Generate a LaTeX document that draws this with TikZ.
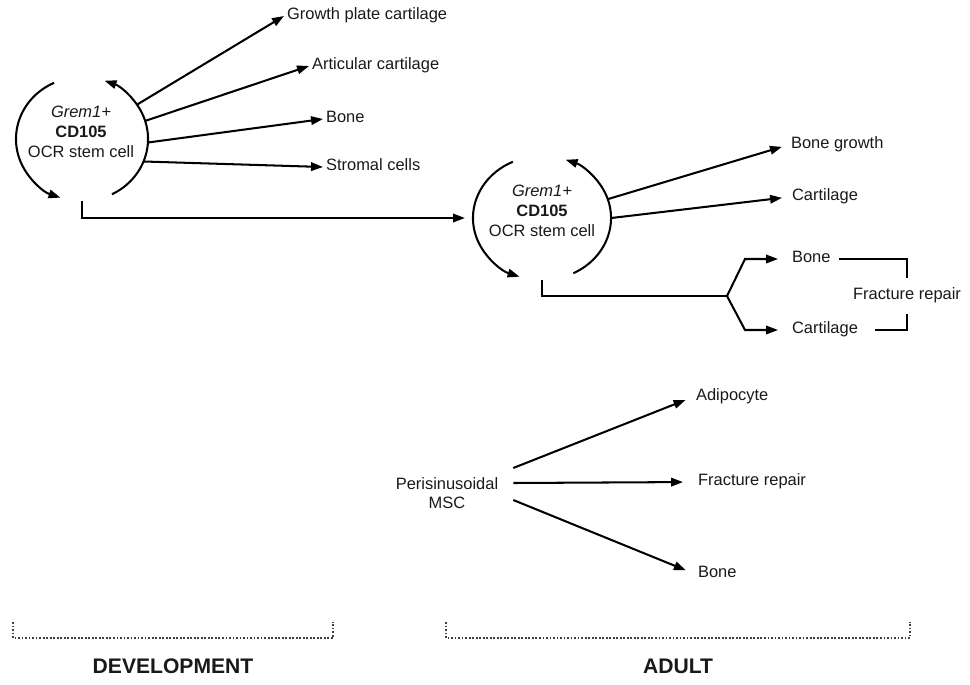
\documentclass[tikz,border=0pt]{standalone}
\usepackage{fontspec}
\setmainfont{Liberation Sans}
\usetikzlibrary{arrows.meta,shapes.geometric}

\begin{document}
\begin{tikzpicture}[x=0.025cm,y=0.025cm,
	>={Triangle[length=8.5pt,width=6pt]},
	font=\fontsize{11.7}{14}\selectfont,
	every node/.style={text=black!90},
	lbl/.style={anchor=west,inner xsep=2pt,inner ysep=0pt,text height=0.72em,text depth=0.22em},
	cell/.style={ellipse,minimum width=3.3cm,minimum height=3.1cm,inner sep=0pt},
	link/.style={->,line width=1.45pt},
	plain/.style={line width=1.45pt},
	phase/.style={font=\fontsize{15}{18}\selectfont\bfseries},
	spanline/.style={line width=1.4pt,dash pattern=on 1.3pt off 1.2pt,black!75}]
	\useasboundingbox (0,0) rectangle (970,-684);

	\node[cell] (ocr1) at (82,-139) {};
	\node[align=center] (ocr1txt) at (81,-132) {\textit{Grem1+}\\\textbf{CD105}\\OCR stem cell};
	\draw[link] ([shift={(115:1.65cm and 1.55cm)}]ocr1.center) arc[start angle=115,end angle=251,x radius=1.65cm,y radius=1.55cm];
	\draw[link] ([shift={(-63:1.65cm and 1.55cm)}]ocr1.center) arc[start angle=-63,end angle=70,x radius=1.65cm,y radius=1.55cm];

	\node[lbl] (gpc) at (284,-16) {Growth plate cartilage};
	\node[lbl] (artc) at (309,-66) {Articular cartilage};
	\node[lbl] (bone1) at (323,-119) {Bone};
	\node[lbl] (strom) at (323,-167) {Stromal cells};

	\draw[link] (ocr1.32) -- (gpc.west);
	\draw[link] (ocr1.16) -- (artc.west);
	\draw[link] (ocr1.-3) -- (bone1.west);
	\draw[link] (ocr1.-20) -- (strom.west);

	\node[cell,minimum width=3.45cm] (ocr2) at (542,-218) {};
	\node[align=center] (ocr2txt) at (542,-211) {\textit{Grem1+}\\\textbf{CD105}\\OCR stem cell};
	\draw[link] ([shift={(115:1.725cm and 1.55cm)}]ocr2.center) arc[start angle=115,end angle=251,x radius=1.725cm,y radius=1.55cm];
	\draw[link] ([shift={(-63:1.725cm and 1.55cm)}]ocr2.center) arc[start angle=-63,end angle=70,x radius=1.725cm,y radius=1.55cm];

	\draw[link,shorten >=5.5pt] (ocr1.south) |- (ocr2.west);

	\node[lbl] (bgrow) at (788,-145) {Bone growth};
	\node[lbl] (cart1) at (789,-197) {Cartilage};
	\draw[link,shorten >=4.5pt] (ocr2.16) -- (bgrow.west);
	\draw[link,shorten >=5pt] (ocr2.0) -- (cart1.west);

	\coordinate (fork) at (727,-296);
	\node[lbl] (bone2) at (789,-259) {Bone};
	\node[lbl] (cart2) at (789,-330) {Cartilage};
	\node[text height=0.72em,text depth=0.22em,inner ysep=7.7pt] (frac1) at (907,-296) {Fracture repair};

	\draw[plain] (ocr2.south) |- (fork);
	\draw[link,shorten >=7.8pt] (fork) -- ++(18,37) -- (bone2.west);
	\draw[link,shorten >=7.8pt] (fork) -- ++(18,-34) -- (cart2.west);
	\draw[plain,shorten <=3.5pt] (bone2.east) -| (frac1.north);
	\draw[plain,shorten <=10pt] (cart2.east) -| (frac1.south);

	\node[align=center,inner xsep=10.5pt] (msc) at (447,-493) {Perisinusoidal\\MSC};
	\node[lbl] (adipo) at (693,-397) {Adipocyte};
	\node[lbl] (frac2) at (695,-482) {Fracture repair};
	\node[lbl] (bone3) at (695,-574) {Bone};

	\draw[link,shorten >=5.7pt] ([yshift=0.625cm]msc.east) -- (adipo.west);
	\draw[link,shorten >=8.5pt] ([yshift=0.25cm]msc.east) -- (frac2.west);
	\draw[link,shorten >=7pt] ([yshift=-0.175cm]msc.east) -- (bone3.west);

	\draw[spanline] (13,-622) -- (13,-638) -- (333,-638) -- (333,-622);
	\draw[spanline] (446,-622) -- (446,-638) -- (910,-638) -- (910,-622);
	\node[phase] (dev) at (173,-666) {DEVELOPMENT};
	\node[phase] (adult) at (678,-666) {ADULT};
\end{tikzpicture}
\end{document}
